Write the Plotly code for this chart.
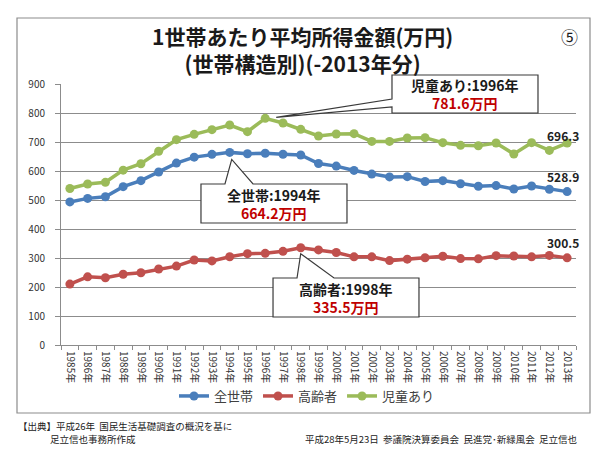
import plotly.graph_objects as go

# データ (国民生活基礎調査より読み取り, 万円)
years = list(range(1985, 2014))
all_households = [493.3, 505.6, 511.3, 545.9, 566.7, 596.6, 627.2, 647.8, 657.5, 664.2,
                  659.6, 661.2, 657.7, 655.2, 626.0, 616.9, 602.0, 589.3, 579.7, 580.4,
                  563.8, 566.8, 556.2, 547.5, 549.6, 538.0, 548.2, 537.2, 528.9]
elderly = [210.0, 235.0, 232.0, 244.0, 249.0, 262.0, 272.0, 293.0, 290.0, 304.5,
           315.0, 316.0, 323.0, 335.5, 328.0, 319.0, 304.0, 304.0, 291.0, 296.0,
           301.0, 306.0, 298.0, 297.0, 308.0, 307.0, 304.0, 309.0, 300.5]
with_children = [539.8, 555.0, 561.0, 603.0, 625.0, 668.0, 708.0, 726.5, 742.5, 758.6,
                 735.6, 781.6, 765.5, 743.7, 720.7, 727.6, 728.7, 702.0, 702.0, 713.8,
                 715.0, 697.7, 688.5, 687.0, 696.5, 658.6, 697.7, 671.0, 696.3]
series_names = ["全世帯", "高齢者", "児童あり"]
year_labels = [str(y) + "年" for y in years]
y_ticks = list(range(0, 1000, 100))

colors = ["#4A7EBB", "#C0504D", "#9BBB59"]
FONT = "Noto Sans CJK JP"

# ページ余白 8px を差し引いた図のサイズ
OFF = 8
W, H = 608 - OFF, 456 - OFF
L, R, T, B = 61, 576, 84, 345   # plot area, screen pixels
XMIN, XMAX = years[0] - 0.5, years[-1] + 0.5
YMAX = 900


def px(x):  # screen pixel -> paper
    return (x - L) / (R - L)


def py(y):
    return (B - y) / (B - T)


def dx(year):  # data -> screen pixel
    return L + (year - XMIN) / (XMAX - XMIN) * (R - L)


def dy(v):
    return B - v / YMAX * (B - T)


def note(x, y, text, size, color="#1a1a1a", xanchor="center"):
    return dict(xref="paper", yref="paper", x=px(x), y=py(y), text=text, showarrow=False,
                xanchor=xanchor, yanchor="middle", font=dict(family=FONT, size=size, color=color))


fig = go.Figure()
for name, vals, c in zip(series_names, [all_households, elderly, with_children], colors):
    fig.add_trace(go.Scatter(
        x=years, y=vals, name=name, mode="lines+markers",
        line=dict(color=c, width=3.5),
        marker=dict(color=c, size=9),
    ))

shapes = []
annotations = []

# 外枠
shapes.append(dict(type="rect", xref="paper", yref="paper",
                   x0=px(17), x1=px(590), y0=py(413), y1=py(18),
                   line=dict(color="#8c8c8c", width=1.2), fillcolor="rgba(0,0,0,0)"))


def callout(series, box, base, side, tip_off, label):
    i = series.index(max(series))
    tx = dx(years[i]) + tip_off[0]
    ty = dy(series[i]) + tip_off[1]
    x0, y0, x1, y1 = box
    if side == "top":
        pts = [(x0, y0), (base[0], y0), (tx, ty), (base[1], y0), (x1, y0), (x1, y1), (x0, y1)]
    else:
        pts = [(x0, y0), (x1, y0), (x1, y1), (x0, y1), (x0, base[1]), (tx, ty), (x0, base[0])]
    path = "M " + " L ".join("%.4f,%.4f" % (px(a), py(b)) for a, b in pts) + " Z"
    shapes.append(dict(type="path", xref="paper", yref="paper", path=path,
                       fillcolor="white", line=dict(color="#3a3a3a", width=1.2)))
    text = ("<b>%s:%d年</b><br><b><span style='color:#C00000'>%.1f万円</span></b>"
            % (label, years[i], series[i]))
    annotations.append(note((x0 + x1) / 2, (y0 + y1) / 2, text, 14))


callout(all_households, (201, 184, 347, 223), (225, 253), "top", (2, 7), "全世帯")
callout(elderly, (273, 278, 419, 317), (297, 334), "top", (0, 6), "高齢者")
callout(with_children, (392, 75, 538, 113), (99, 107), "left", (11, -1), "児童あり")

# 最終年の値
for vals, off in zip([all_households, elderly, with_children], [15, 15, 8]):
    annotations.append(note(dx(years[-1]) - 4, dy(vals[-1]) - off,
                            "<b>%.1f</b>" % vals[-1], 12, "#222222"))

# タイトル (2行)
annotations.append(note(302, 49.5, "<b>1世帯あたり平均所得金額(万円)<br>(世帯構造別)(-2013年分)</b>", 21))
annotations.append(note(569, 36, "⑤", 17))

# 出典
annotations.append(note(16, 426, "【出典】平成26年  国民生活基礎調査の概況を基に", 9.5, "#222222", "left"))
annotations.append(note(48, 439, "足立信也事務所作成", 9.5, "#222222", "left"))
annotations.append(note(579, 439, "平成28年5月23日  参議院決算委員会  民進党･新緑風会  足立信也",
                        9.5, "#222222", "right"))

fig.update_layout(
    width=W, height=H,
    margin=dict(l=L - OFF, r=W + OFF - R, t=T - OFF, b=H + OFF - B, pad=0),
    paper_bgcolor="white", plot_bgcolor="white",
    font=dict(family=FONT, color="#404040"),
    showlegend=True,
    legend=dict(orientation="h", x=px(307), xanchor="center", y=py(396), yanchor="middle",
                font=dict(size=13, color="#404040"), itemwidth=30, bgcolor="rgba(0,0,0,0)"),
    shapes=shapes, annotations=annotations,
    xaxis=dict(range=[XMIN, XMAX], tickvals=years, ticktext=year_labels, tickangle=90,
               ticks="", showgrid=False, zeroline=False,
               showline=True, linecolor="#8c8c8c", linewidth=1,
               tickfont=dict(size=10, color="#333333"), ticklabelstandoff=3,
               minor=dict(ticks="outside", tick0=XMIN, dtick=1, ticklen=4, tickcolor="#8c8c8c",
                          showgrid=False)),
    yaxis=dict(range=[0, YMAX], tickvals=y_ticks, showgrid=True, gridcolor="#8c8c8c",
               gridwidth=1, zeroline=False, showline=True, linecolor="#8c8c8c", linewidth=1,
               ticks="outside", ticklen=5, tickcolor="#8c8c8c",
               tickfont=dict(size=10, color="#333333"), ticklabelstandoff=8),
)

fig.write_html("out.html")
